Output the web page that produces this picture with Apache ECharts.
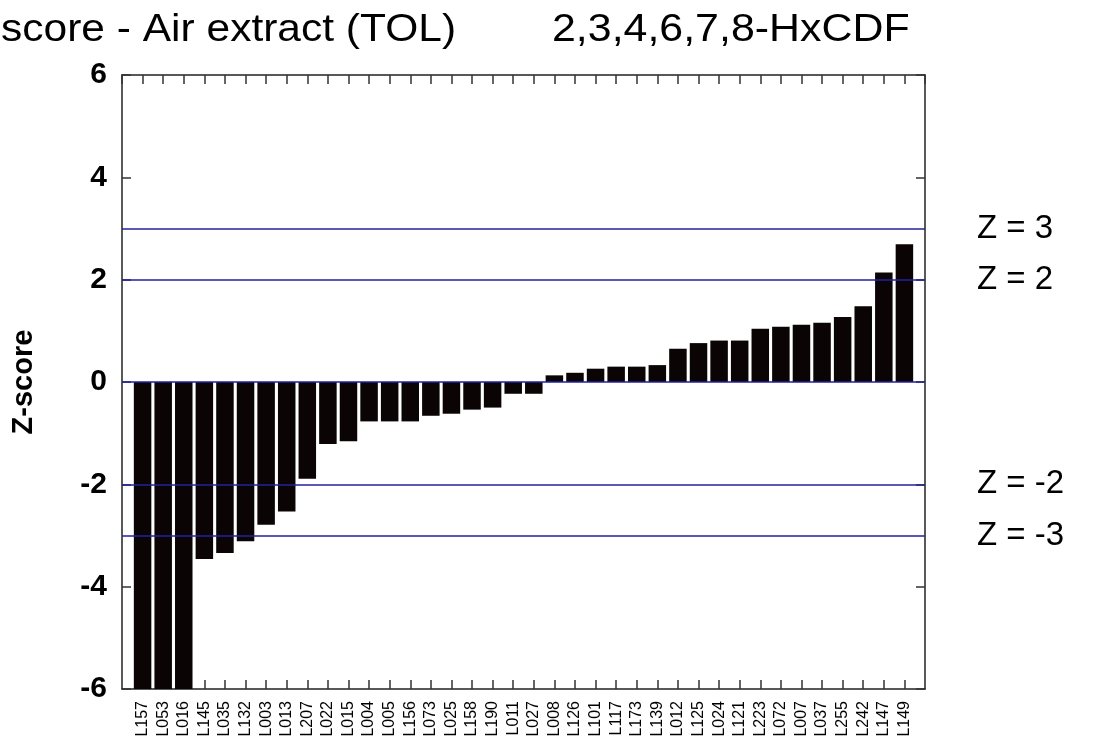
<!DOCTYPE html>
<html>
<head>
<meta charset="utf-8">
<script src="https://cdn.jsdelivr.net/npm/echarts@6/dist/echarts.min.js"></script>
<style>
html,body{margin:0;padding:0;background:#fff;}
#chart{width:1093px;height:749px;}
</style>
</head>
<body>
<div id="chart"></div>
<script>
const categories = ['L157','L053','L016','L145','L035','L132','L003','L013','L207','L022','L015','L004','L005','L156','L073','L025','L158','L190','L011','L027','L008','L126','L101','L117','L173','L139','L012','L125','L024','L121','L223','L072','L007','L037','L255','L242','L147','L149'];
const zScores = [-8.0,-8.0,-8.0,-3.46,-3.34,-3.11,-2.79,-2.53,-1.89,-1.21,-1.16,-0.77,-0.77,-0.77,-0.66,-0.62,-0.54,-0.50,-0.23,-0.23,0.13,0.18,0.26,0.30,0.30,0.33,0.65,0.76,0.81,0.81,1.04,1.08,1.12,1.16,1.27,1.48,2.14,2.69];
const limitLines = [3, 2, 0, -2, -3];
const limitLabels = ['Z = 3', 'Z = 2', '', 'Z = -2', 'Z = -3'];
const yTicks = [-6, -4, -2, 0, 2, 4, 6];
const titleLeft = 'score - Air extract (TOL)';
const titleRight = '2,3,4,6,7,8-HxCDF';

const chart = echarts.init(document.getElementById('chart'), null, {renderer:'canvas'});
const FONT = 'Arial, "Liberation Sans", sans-serif';

const barData = zScores.map((v, i) => [i + 1, v]);

function xAxisDef(pos, labels){
  return {
    type:'value', position:pos, min:0, max:categories.length + 1, interval:1,
    axisLine:{show:true, onZero:false, lineStyle:{color:'#222', width:1.5}},
    axisTick:{show:true, inside:true, length:9, lineStyle:{color:'#333', width:1.5}},
    splitLine:{show:false},
    axisLabel: labels ? {
      show:true, rotate:90, margin:12, fontSize:16, color:'#000', fontFamily:FONT,
      showMinLabel:false, showMaxLabel:false,
      formatter:function(v){ return categories[v-1] || ''; }
    } : {show:false}
  };
}
function yAxisDef(pos, labels){
  return {
    type:'value', position:pos, min:yTicks[0], max:yTicks[yTicks.length-1], interval:2,
    axisLine:{show:true, onZero:false, lineStyle:{color:'#222', width:1.5}},
    axisTick:{show:true, inside:true, length:9, lineStyle:{color:'#333', width:1.5}},
    splitLine:{show:false},
    name: labels ? 'Z-score' : '',
    nameLocation:'middle', nameRotate:90, nameGap:84,
    nameTextStyle:{fontSize:29, fontWeight:'bold', color:'#000', fontFamily:FONT},
    axisLabel: labels ? {show:true, fontSize:30, fontWeight:'bold', color:'#000', margin:15, fontFamily:FONT} : {show:false}
  };
}

chart.setOption({
  animation:false,
  backgroundColor:'#fff',
  grid:{left:122, right:168, top:75, bottom:60, containLabel:false, show:false},
  xAxis:[ xAxisDef('bottom', true), xAxisDef('top', false) ],
  yAxis:[ yAxisDef('left', true), yAxisDef('right', false) ],
  graphic:[
    {type:'text', x:1, y:30, scaleX:1.09, style:{text:titleLeft, fontSize:39, fontFamily:FONT, fill:'#000', verticalAlign:'middle', align:'left'}},
    {type:'text', x:552, y:30, scaleX:1.1, style:{text:titleRight, fontSize:39, fontFamily:FONT, fill:'#000', verticalAlign:'middle', align:'left'}}
  ],
  series:[{
    type:'bar',
    xAxisIndex:0, yAxisIndex:0,
    data:barData,
    barWidth:17.5,
    clip:true,
    itemStyle:{color:'#0a0404'},
    markLine:{
      silent:true,
      symbol:['none','none'],
      lineStyle:{color:'#22229c', width:1.5, type:'solid'},
      label:{
        show:true, position:'end', distance:52, fontSize:33, color:'#000', fontFamily:FONT,
        formatter:function(p){ return limitLabels[p.dataIndex]; }
      },
      data: limitLines.map(v => ({yAxis:v}))
    }
  }]
});
</script>
</body>
</html>
